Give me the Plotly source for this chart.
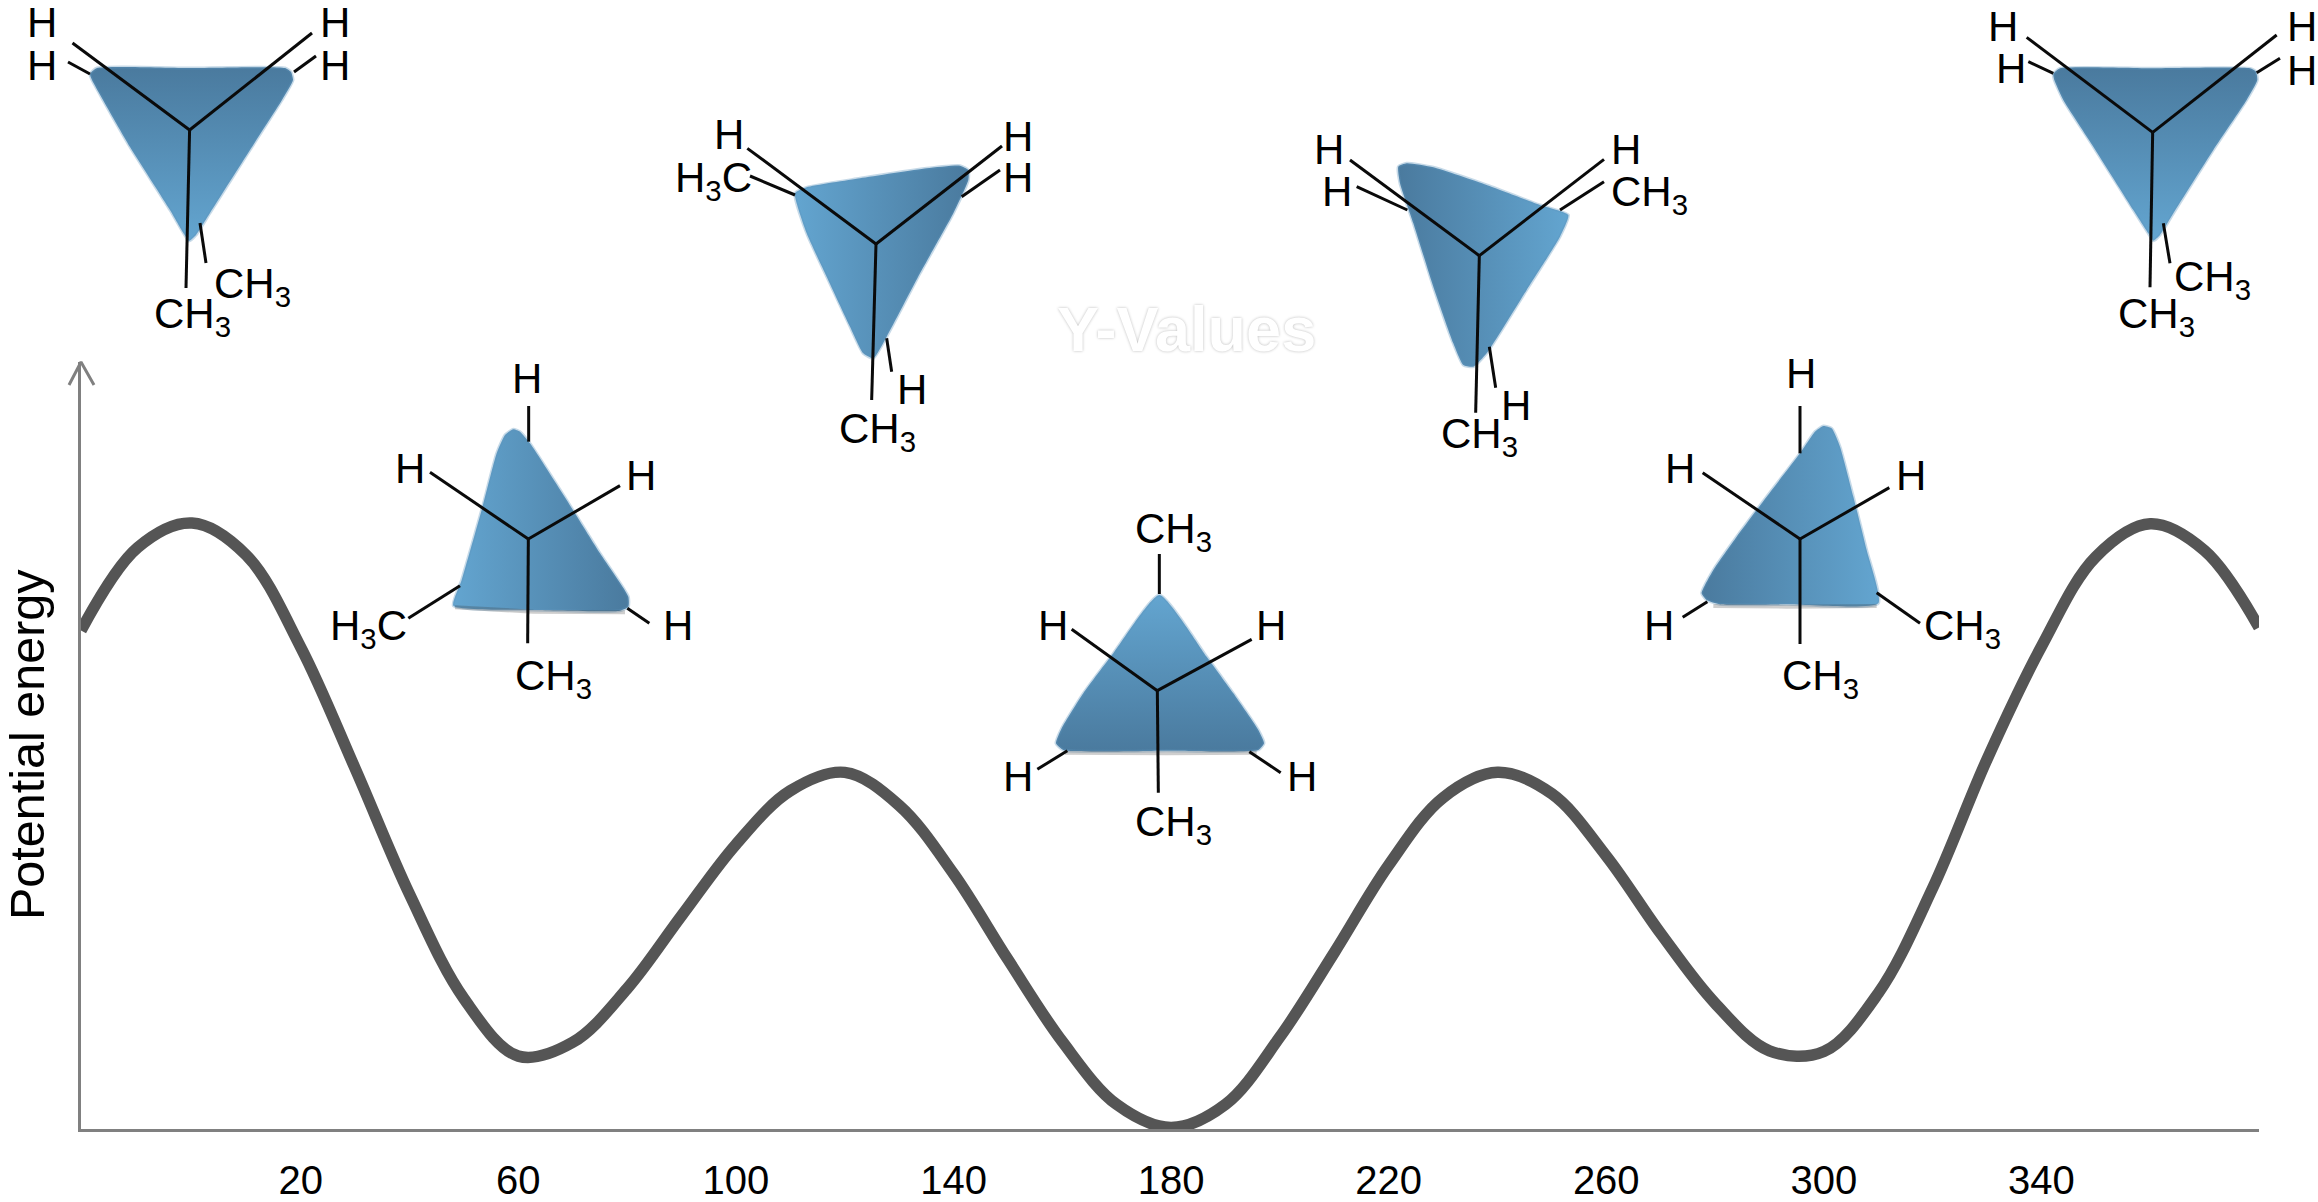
import plotly.graph_objects as go

# ---- energy curve ----
TORSION_DEG = [-20.4, -10, 0, 10, 20, 30, 40, 50, 60, 70, 80, 90, 100, 110, 120, 130, 140, 150, 160, 170, 180,
               190, 200, 210, 220, 230, 240, 250, 260, 270, 280, 290, 300, 310, 320, 330, 340, 350, 360, 370, 380]
ENERGY = [65, 75.8, 79, 74.8, 62.8, 47, 30.6, 17, 9.5, 11.3, 18.3, 27.8, 37.1, 44.1, 46.5, 42.2, 33.3, 22.1, 11.4, 3.2, 0.2,
          3.2, 12, 23, 34.4, 43.2, 46.5, 43.7, 35.6, 25.5, 16.4, 10.2, 10.1, 17.7, 31.4, 48.2, 62.9, 74.6, 78.9, 75.4, 65.4]
TICK_VALUES = [20, 60, 100, 140, 180, 220, 260, 300, 340]
Y_TITLE = "Potential energy"
GHOST = "Y-Values"

DARK, LIGHT = "#4a7a9e", "#63a5d0"
W, H = 2318, 1202
CH3, H3C = "CH<sub>3</sub>", "H<sub>3</sub>C"

def z(ox, oy, pts, k=3.0):
    return [(ox + a / k, oy + b / k) for a, b in pts]

# ---- Newman projections: outline, bonds, labels ----
M1 = dict(
    outline=[(190,68),(285,68),(291,72),(293,80),(282,100),(250,150),(210,213),(196,235),(189,241),(184,234),
             (170,210),(130,147),(103,100),(92,80),(90,74),(97,68),(190,68)],
    bonds=[((189.6,130),(72.5,43)),((189.6,130),(312,33)),((189.6,130),(186,288)),
           ((68,62),(90,74)),((294,72),(316,56)),((200,223),(206,263))],
    labels=[("H",42,22.5,"c"),("H",42,65,"c"),("H",335,22.5,"c"),("H",335,65,"c"),(CH3,216,283,"l"),(CH3,156,313,"l")],
    grad=("vertical", [LIGHT, DARK]))
M6 = dict(
    outline=z(1960,0,[(580,205),(870,205),(888,215),(892,240),(860,300),(760,450),(640,640),(600,705),(580,722),(565,700),
                      (520,630),(400,440),(310,300),(283,240),(280,222),(300,205),(580,205)]),
    bonds=[tuple(z(1960,0,b)) for b in [[(578,397),(200,112)],[(578,397),(950,105)],[(578,397),(570,862)],
                                        [(205,185),(280,220)],[(890,218),(960,175)],[(610,670),(630,790)]]],
    labels=[(t,*z(1960,0,[p])[0],a) for t,p,a in [("H",(128,78),"c"),("H",(152,205),"c"),("H",(1025,78),"c"),
                                                  ("H",(1025,212),"c"),(CH3,(648,830),"l"),(CH3,(480,940),"l")]],
    grad=("vertical", [LIGHT, DARK]))
M2 = dict(
    outline=z(300,340,[(800,480),(900,640),(985,770),(985,800),(960,812),(700,810),(460,797),(485,720),(545,510),
                       (590,340),(615,285),(640,268),(660,275),(690,310),(800,480)]),
    bonds=[tuple(z(300,340,b)) for b in [[(685,597),(390,397)],[(685,597),(960,437)],[(685,597),(683,910)],
                                         [(686,198),(686,305)],[(480,737),(325,835)],[(982,805),(1048,850)]]],
    labels=[(t,*z(300,340,[p])[0],a) for t,p,a in [("H",(680,115),"c"),("H",(330,385),"c"),("H",(1022,405),"c"),
                                                   ("H",(1135,855),"c"),(H3C,(97,855),"l"),(CH3,(652,1005),"l")]],
    grad=("horizontal", [LIGHT, DARK]), shadow=z(300,340,[(465,802),(700,815),(975,817)]))
M3 = dict(
    outline=z(660,100,[(600,235),(800,205),(900,197),(925,210),(925,240),(880,340),(780,520),(680,710),(640,775),
                       (610,760),(570,680),(500,530),(440,400),(405,280),(440,262),(600,235)]),
    bonds=[tuple(z(660,100,b)) for b in [[(648,432),(262,145)],[(648,432),(1026,138)],[(648,432),(635,900)],
                                         [(270,228),(405,285)],[(680,715),(695,815)],[(905,290),(1020,210)]]],
    labels=[(t,*z(660,100,[p])[0],a) for t,p,a in [("H",(207,103),"c"),(H3C,(52,232),"l"),("H",(755,868),"c"),
                                                   (CH3,(542,985),"l"),("H",(1074,108),"c"),("H",(1074,231),"c")]],
    grad=("horizontal", [LIGHT, DARK]))
M4 = dict(
    outline=z(1300,110,[(560,225),(720,285),(805,315),(780,380),(680,540),(560,730),(520,770),(490,765),(460,700),
                        (400,530),(340,340),(300,220),(295,170),(320,160),(400,172),(560,225)]),
    bonds=[tuple(z(1300,110,b)) for b in [[(538,437),(150,150)],[(538,437),(912,148)],[(538,437),(527,908)],
                                          [(170,230),(322,300)],[(780,300),(912,215)],[(568,710),(587,833)]]],
    labels=[(t,*z(1300,110,[p])[0],a) for t,p,a in [("H",(87,118),"c"),("H",(110,245),"c"),("H",(977,118),"c"),
                                                    (CH3,(940,245),"l"),("H",(648,885),"c"),(CH3,(430,970),"l")]],
    grad=("horizontal", [DARK, LIGHT]))
M5 = dict(
    outline=z(1000,480,[(620,530),(700,640),(775,750),(792,790),(775,810),(500,812),(190,810),(168,790),(185,745),
                        (250,640),(340,520),(478,345),(620,530)]),
    bonds=[tuple(z(1000,480,b)) for b in [[(472,632),(215,448)],[(472,632),(755,478)],[(472,632),(475,938)],
                                          [(478,222),(478,342)],[(202,812),(112,868)],[(748,815),(842,878)]]],
    labels=[(t,*z(1000,480,[p])[0],a) for t,p,a in [(CH3,(412,145),"l"),("H",(158,435),"c"),("H",(812,435),"c"),
                                                    ("H",(55,890),"c"),("H",(905,890),"c"),(CH3,(412,1025),"l")]],
    grad=("vertical", [DARK, LIGHT]), shadow=z(1000,480,[(195,818),(500,820),(770,818)]))
M7 = dict(
    outline=z(1620,340,[(700,470),(740,630),(775,790),(500,793),(300,793),(260,780),(245,760),(280,690),(350,590),
                        (440,470),(540,340),(585,275),(610,258),(635,265),(660,320),(700,470)]),
    bonds=[tuple(z(1620,340,b)) for b in [[(540,597),(248,398)],[(540,597),(808,443)],[(540,597),(540,912)],
                                          [(540,198),(540,340)],[(262,785),(188,832)],[(770,758),(900,850)]]],
    labels=[(t,*z(1620,340,[p])[0],a) for t,p,a in [("H",(542,100),"c"),("H",(180,385),"c"),("H",(872,405),"c"),
                                                    ("H",(117,855),"c"),(CH3,(918,855),"l"),(CH3,(492,1005),"l")]],
    grad=("horizontal", [DARK, LIGHT]), shadow=z(1620,340,[(280,798),(500,800),(770,798)]))
MOLECULES = [M1, M2, M3, M4, M5, M6, M7]
ARROW = [(69,385),(81,362),(94,385)]

fig = go.Figure()

fig.add_trace(go.Scatter(x=TORSION_DEG, y=ENERGY, mode="lines", line=dict(color="#555555", width=11.5, shape="spline"),
                         hoverinfo="skip", showlegend=False))

over = dict(xaxis="x2", yaxis="y2", hoverinfo="skip", showlegend=False)
ann = []
for m in MOLECULES:
    xs, ys = zip(*m["outline"])
    fig.add_trace(go.Scatter(x=xs, y=ys, mode="lines", fill="toself",
                             line=dict(color="rgba(95,150,190,0.35)", width=3, shape="spline", smoothing=0.5),
                             fillgradient=dict(type=m["grad"][0], colorscale=[[0, m["grad"][1][0]], [1, m["grad"][1][1]]]),
                             **over))
    if "shadow" in m:
        sx, sy = zip(*m["shadow"])
        fig.add_trace(go.Scatter(x=sx, y=sy, mode="lines", line=dict(color="rgba(60,60,60,0.25)", width=4), **over))
    for a, b in m["bonds"]:
        fig.add_trace(go.Scatter(x=[a[0], b[0]], y=[a[1], b[1]], mode="lines",
                                 line=dict(color="#0a0a0a", width=3), **over))
    for t, x, y, anc in m["labels"]:
        sub = "<sub>" in t
        ann.append(dict(text=t, x=x - (3 if sub else 0), y=y + (3 if sub else 0), xref="x2", yref="y2", showarrow=False,
                        xanchor="center" if anc == "c" else "left", yanchor="middle", borderpad=0,
                        font=dict(family="Liberation Sans", size=42, color="#000000")))

ax, ay = zip(*ARROW)
fig.add_trace(go.Scatter(x=ax, y=ay, mode="lines", line=dict(color="#808080", width=3), **over))

ann.append(dict(text=Y_TITLE, x=27, y=745, xref="x2", yref="y2", showarrow=False, textangle=-90,
                font=dict(family="Liberation Sans", size=48.5, color="#000000")))
ann.append(dict(text=f"<b>{GHOST}</b>", x=1186, y=329, xref="x2", yref="y2", showarrow=False,
                font=dict(family="Liberation Sans", size=63, color="#ffffff", shadow="0 0 3px rgba(0,0,0,0.28)")))

fig.update_layout(
    width=W, height=H, margin=dict(l=0, r=0, t=0, b=0), plot_bgcolor="rgba(0,0,0,0)", paper_bgcolor="white",
    showlegend=False, annotations=ann,
    xaxis=dict(domain=[81 / W, 2259 / W], range=[-20.4, 380], tickmode="array", tickvals=TICK_VALUES,
               ticktext=[str(v) for v in TICK_VALUES], ticks="", showgrid=False, zeroline=False,
               showline=True, linecolor="#808080", linewidth=3, ticklabelstandoff=14,
               tickfont=dict(family="Liberation Sans", size=40, color="#000000")),
    yaxis=dict(domain=[(H - 1129) / H, (H - 362) / H], range=[0, 100], showticklabels=False, ticks="", showgrid=False,
               zeroline=False, showline=True, linecolor="#808080", linewidth=3),
    xaxis2=dict(domain=[0, 1], range=[0, W], visible=False, anchor="y2"),
    yaxis2=dict(domain=[0, 1], range=[H, 0], visible=False, anchor="x2"),
)
fig.write_html("out.html", config=dict(displayModeBar=False),
               post_script="document.body.style.margin='0';document.documentElement.style.overflow='hidden';")
